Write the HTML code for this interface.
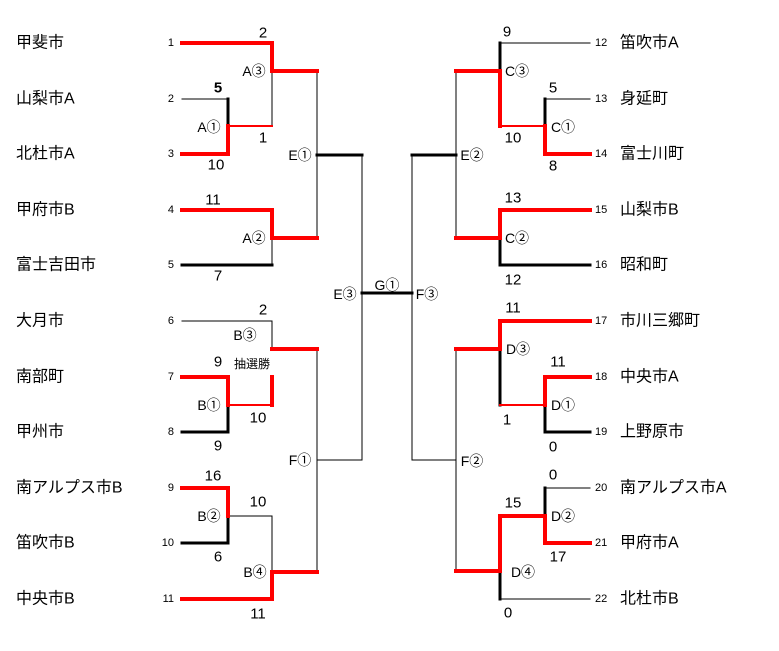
<!DOCTYPE html>
<html><head><meta charset="utf-8"><style>
html,body{margin:0;padding:0;background:#fff;}
svg{display:block;font-family:"Liberation Sans","Noto Sans CJK JP",sans-serif;}
.n{font-size:16px;}
.s{font-size:11px;}
.c{font-size:15px;}
.m{font-size:14px;}
</style></head><body>
<svg width="779" height="651" viewBox="0 0 779 651" xmlns="http://www.w3.org/2000/svg">
<g fill="none" stroke-linecap="square" shape-rendering="crispEdges">
<g stroke="#000" stroke-width="1">
<path d="M182 99H228"/><path d="M272 71V126"/><path d="M272 238V265"/>
<path d="M317 71V238"/><path d="M362 155V460"/><path d="M317 349V572"/><path d="M317 460H362"/>
<path d="M182 321H272V347"/><path d="M228 516H272V572"/>
<path d="M500 43H590"/><path d="M545 99H590"/><path d="M456 71V238"/><path d="M412 155V460"/>
<path d="M456 349V571"/><path d="M412 460H456"/><path d="M545 488H590"/><path d="M500 599H590"/>
</g>
<g stroke="#000" stroke-width="3">
<path d="M228 99V126"/><path d="M182 265H272"/><path d="M317 155H362"/><path d="M362 293H412"/>
<path d="M182 432H228V405"/><path d="M182 543H228V516"/>
<path d="M500 43V71"/><path d="M545 99V126"/><path d="M412 155H456"/>
<path d="M500 238V265H590"/><path d="M500 349V405"/><path d="M545 405V432H590"/>
<path d="M545 488V516"/><path d="M500 571V599"/>
</g>
<g stroke="#f00" stroke-width="2">
<path d="M228 126H272"/><path d="M228 405H272"/><path d="M500 126H545"/><path d="M500 405H545"/>
</g>
<g stroke="#f00" stroke-width="4">
<path d="M182 154H228V126"/><path d="M182 43H272V71H317"/><path d="M182 210H272V238H317"/>
<path d="M272 349H317"/><path d="M272 377V405"/><path d="M182 377H228V405"/>
<path d="M182 488H228V516"/><path d="M182 599H272V572H317"/>
<path d="M456 71H500V126"/><path d="M545 126V154H590"/><path d="M590 210H500V238H456"/>
<path d="M590 321H500V349H456"/><path d="M590 377H545V405"/><path d="M500 516H545V543H590"/>
<path d="M500 516V571H456"/>
</g>
</g>
<g fill="#000" dominant-baseline="central">
<g class="n">
<text x="16" y="43">甲斐市</text><text x="16" y="99">山梨市A</text><text x="16" y="154">北杜市A</text>
<text x="16" y="210">甲府市B</text><text x="16" y="265">富士吉田市</text><text x="16" y="321">大月市</text>
<text x="16" y="377">南部町</text><text x="16" y="432">甲州市</text><text x="16" y="488">南アルプス市B</text>
<text x="16" y="543">笛吹市B</text><text x="16" y="599">中央市B</text>
<text x="620" y="43">笛吹市A</text><text x="620" y="99">身延町</text><text x="620" y="154">富士川町</text>
<text x="620" y="210">山梨市B</text><text x="620" y="265">昭和町</text><text x="620" y="321">市川三郷町</text>
<text x="620" y="377">中央市A</text><text x="620" y="432">上野原市</text><text x="620" y="488">南アルプス市A</text>
<text x="620" y="543">甲府市A</text><text x="620" y="599">北杜市B</text>
</g>
<g class="s" text-anchor="end">
<text x="174" y="43">1</text><text x="174" y="99">2</text><text x="174" y="154">3</text><text x="174" y="210">4</text>
<text x="174" y="265">5</text><text x="174" y="321">6</text><text x="174" y="377">7</text><text x="174" y="432">8</text>
<text x="174" y="488">9</text><text x="174" y="543">10</text><text x="174" y="599">11</text>
</g>
<g class="s">
<text x="595" y="43">12</text><text x="595" y="99">13</text><text x="595" y="154">14</text><text x="595" y="210">15</text>
<text x="595" y="265">16</text><text x="595" y="321">17</text><text x="595" y="377">18</text><text x="595" y="432">19</text>
<text x="595" y="488">20</text><text x="595" y="543">21</text><text x="595" y="599">22</text>
</g>
<g class="c" text-anchor="middle">
<text x="263" y="33">2</text><text x="218" y="88" font-weight="bold">5</text><text x="263" y="138">1</text>
<text x="216" y="165">10</text><text x="213" y="200">11</text><text x="218" y="276">7</text>
<text x="263" y="310">2</text><text x="218" y="362">9</text><text x="258" y="418">10</text>
<text x="218" y="446">9</text><text x="213" y="476">16</text><text x="258" y="502">10</text>
<text x="218" y="557">6</text><text x="258" y="614">11</text>
<text x="507" y="32">9</text><text x="513" y="138">10</text><text x="553" y="88">5</text><text x="553" y="166">8</text>
<text x="513" y="198">13</text><text x="513" y="280">12</text><text x="513" y="308">11</text>
<text x="558" y="362">11</text><text x="507" y="420">1</text><text x="553" y="447">0</text>
<text x="553" y="475">0</text><text x="513" y="503">15</text><text x="558" y="557">17</text><text x="508" y="613">0</text>
</g>
<text x="252" y="364" text-anchor="middle" font-size="12">抽選勝</text>
<g class="m" text-anchor="middle">
<text x="254" y="71">A③</text><text x="209" y="127">A①</text><text x="254" y="238">A②</text>
<text x="300" y="155">E①</text><text x="345" y="294">E③</text><text x="387" y="285">G①</text>
<text x="427" y="294">F③</text><text x="245" y="335">B③</text><text x="209" y="405">B①</text>
<text x="300" y="460">F①</text><text x="209" y="516">B②</text><text x="255" y="572">B④</text>
<text x="517" y="71">C③</text><text x="563" y="127">C①</text><text x="472" y="155">E②</text>
<text x="517" y="238">C②</text><text x="518" y="349">D③</text><text x="563" y="405">D①</text>
<text x="472" y="461">F②</text><text x="563" y="516">D②</text><text x="523" y="572">D④</text>
</g>
</g>
</svg>
</body></html>
